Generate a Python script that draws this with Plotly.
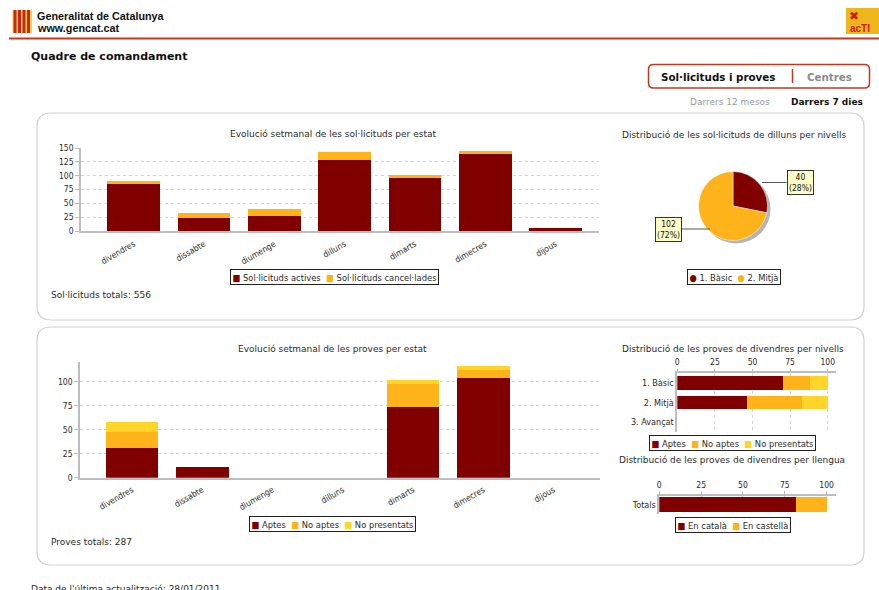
import plotly.graph_objects as go

# ---------------- data ----------------
days = ["divendres", "dissabte", "diumenge", "dilluns", "dimarts", "dimecres", "dijous"]
sol_names = ["Sol·licituds actives", "Sol·licituds cancel·lades"]
sol_actives = [85, 24, 28, 128, 96, 139, 5]
sol_cancel = [5, 9, 12, 14, 5, 6, 0]

pie_levels = ["1. Bàsic", "2. Mitjà"]
pie_values = [40, 102]

prov_names = ["Aptes", "No aptes", "No presentats"]
prov_aptes = [31, 11, 0, 0, 74, 104, 0]
prov_noaptes = [17, 0, 0, 0, 24, 8, 0]
prov_nopres = [10, 0, 0, 0, 4, 4, 0]

levels3 = ["1. Bàsic", "2. Mitjà", "3. Avançat"]
lvl_aptes = [70.6, 46.3, 0]
lvl_noaptes = [17.6, 36.6, 0]
lvl_nopres = [11.8, 17.1, 0]

lang_names = ["En català", "En castellà"]
lang_cat = "Totals"
lang_values = [81.5, 18.5]

y_ticks_sol = [0, 25, 50, 75, 100, 125, 150]
y_ticks_prov = [0, 25, 50, 75, 100]
pct_ticks = [0, 25, 50, 75, 100]

# ---------------- style ----------------
W, H = 879, 590
RED = "#800000"
ORANGE = "#ffb31a"
YELLOW = "#ffd52a"
TXT = "#2b2b2b"
FONT = "DejaVu Sans"
CFONT = "DejaVu Sans Condensed, DejaVu Sans"
GRID = "#d4d4d4"
GDASH = "3px,3px"
AXL = "#bdbdbd"


def X(px):
    return px / W


def Y(py):
    return 1 - py / H


def dx(a, b):
    return [X(a), X(b)]


def dy(top, bottom):
    return [Y(bottom), Y(top)]


fig = go.Figure()
nol = dict(width=0)

# chart 1: sol·licituds
fig.add_trace(go.Bar(x=days, y=sol_actives, name=sol_names[0], marker=dict(color=RED, line=nol),
                     width=0.75, xaxis="x", yaxis="y"))
fig.add_trace(go.Bar(x=days, y=sol_cancel, name=sol_names[1], marker=dict(color=ORANGE, line=nol),
                     width=0.75, xaxis="x", yaxis="y"))

# pie
fig.add_trace(go.Pie(values=pie_values, labels=pie_levels, sort=False, direction="clockwise", rotation=0,
                     marker=dict(colors=[RED, ORANGE], line=dict(color="white", width=0.5)),
                     textinfo="none", domain=dict(x=dx(698.5, 767.5), y=dy(171.5, 240.5))))

# chart 2: proves
for vals, nm, col in zip([prov_aptes, prov_noaptes, prov_nopres], prov_names, [RED, ORANGE, YELLOW]):
    fig.add_trace(go.Bar(x=days, y=vals, name=nm, marker=dict(color=col, line=nol),
                         width=0.75, xaxis="x2", yaxis="y2"))

# hbar 1: nivells
for vals, nm, col in zip([lvl_aptes, lvl_noaptes, lvl_nopres], prov_names, [RED, ORANGE, YELLOW]):
    fig.add_trace(go.Bar(y=levels3, x=vals, name=nm, orientation="h", marker=dict(color=col, line=nol),
                         width=0.68, xaxis="x3", yaxis="y3"))

# hbar 2: llengua
for v, nm, col in zip(lang_values, lang_names, [RED, ORANGE]):
    fig.add_trace(go.Bar(y=[lang_cat], x=[v], name=nm, orientation="h", marker=dict(color=col, line=nol),
                         width=0.84, xaxis="x4", yaxis="y4"))

tickf = dict(family=CFONT, size=8.5, color=TXT)

layout = dict(
    template="none",
    width=W, height=H, autosize=False, margin=dict(l=0, r=0, t=0, b=0, pad=0),
    paper_bgcolor="white", plot_bgcolor="white", showlegend=False, barmode="stack",
    font=dict(family=FONT, color=TXT),
    xaxis=dict(domain=dx(81, 599), anchor="y", type="category", categoryorder="array", categoryarray=days,
               range=[-0.75, 6.62], tickangle=-30, tickfont=tickf, showline=True, linecolor=AXL, linewidth=2,
               ticks="", showgrid=False, zeroline=False, automargin=False, ticklabelstandoff=3),
    yaxis=dict(domain=dy(148, 231), anchor="x", range=[0, 150], tickvals=y_ticks_sol, tickfont=tickf,
               showgrid=True, gridcolor=GRID, griddash=GDASH, showline=True, linecolor=AXL, linewidth=1.5,
               ticks="outside", ticklen=4, tickcolor=AXL, zeroline=False, automargin=False),
    xaxis2=dict(domain=dx(80, 600), anchor="y2", type="category", categoryorder="array", categoryarray=days,
                range=[-0.74, 6.66], tickangle=-30, tickfont=tickf, showline=True, linecolor=AXL, linewidth=2,
                ticks="", showgrid=False, zeroline=False, automargin=False, ticklabelstandoff=2),
    yaxis2=dict(domain=dy(361.7, 477.7), anchor="x2", range=[0, 121], tickvals=y_ticks_prov, tickfont=tickf,
                showgrid=True, gridcolor=GRID, griddash=GDASH, showline=True, linecolor=AXL, linewidth=1.5,
                ticks="outside", ticklen=4, tickcolor=AXL, zeroline=False, automargin=False),
    xaxis3=dict(domain=dx(677.3, 836), anchor="y3", side="top", range=[0, 105.5], tickvals=pct_ticks,
                tickfont=tickf, showgrid=True, gridcolor=GRID, griddash=GDASH, showline=True, linecolor=AXL,
                linewidth=1.5, ticks="outside", ticklen=3, tickcolor=AXL, zeroline=False, automargin=False),
    yaxis3=dict(domain=dy(373.3, 432), anchor="x3", type="category", categoryorder="array", categoryarray=levels3,
                range=[2.5, -0.5], tickfont=dict(family=CFONT, size=9, color=TXT), showline=True, linecolor=AXL,
                linewidth=1.5, ticks="", showgrid=False, zeroline=False, automargin=False),
    xaxis4=dict(domain=dx(659.3, 836), anchor="y4", side="top", range=[0, 105.6], tickvals=pct_ticks,
                tickfont=tickf, showgrid=True, gridcolor=GRID, griddash=GDASH, showline=True, linecolor=AXL,
                linewidth=1.5, ticks="outside", ticklen=3, tickcolor=AXL, zeroline=False, automargin=False),
    yaxis4=dict(domain=dy(495.7, 513.5), anchor="x4", type="category", range=[-0.5, 0.5],
                tickfont=dict(family=CFONT, size=9, color=TXT), showline=True, linecolor=AXL, linewidth=1.5,
                ticks="", showgrid=False, zeroline=False, automargin=False),
)
fig.update_layout(**layout)

shapes = []
anns = []


def rrect(x0, y0, x1, y1, r):
    return (f"M {X(x0 + r)},{Y(y0)} L {X(x1 - r)},{Y(y0)} Q {X(x1)},{Y(y0)} {X(x1)},{Y(y0 + r)} "
            f"L {X(x1)},{Y(y1 - r)} Q {X(x1)},{Y(y1)} {X(x1 - r)},{Y(y1)} L {X(x0 + r)},{Y(y1)} "
            f"Q {X(x0)},{Y(y1)} {X(x0)},{Y(y1 - r)} L {X(x0)},{Y(y0 + r)} Q {X(x0)},{Y(y0)} {X(x0 + r)},{Y(y0)} Z")


def rect(x0, y0, x1, y1, fill, line=None, lw=0, layer="above"):
    shapes.append(dict(type="rect", xref="paper", yref="paper", x0=X(x0), x1=X(x1), y0=Y(y0), y1=Y(y1),
                       fillcolor=fill, line=dict(color=line or fill, width=lw), layer=layer))


def line(x0, y0, x1, y1, color, w=1):
    shapes.append(dict(type="line", xref="paper", yref="paper", x0=X(x0), x1=X(x1), y0=Y(y0), y1=Y(y1),
                       line=dict(color=color, width=w)))


def text(t, x, y, size, color=TXT, xa="left", ya="middle", family=FONT, **kw):
    anns.append(dict(text=t, x=X(x), y=Y(y), xref="paper", yref="paper", xanchor=xa, yanchor=ya,
                     showarrow=False, borderpad=0, borderwidth=0,
                     font=dict(family=family, size=size, color=color), **kw))


# header
rect(12.5, 10, 32, 33, "#f6d04d")
for sx in [13.5, 18, 22.5, 27]:
    rect(sx, 10, sx + 3, 33, "#c8261b")
text("<b>Generalitat de Catalunya</b>", 37, 16.5, 10.8, "#111", family="Liberation Sans, Arial")
text("<b>www.gencat.cat</b>", 37, 28.5, 10.8, "#111", family="Liberation Sans, Arial")
line(9, 38.5, 879, 38.5, "#c8361c", 2)
rect(846, 8, 879, 34, "#efb51c")
text("<b>✖</b>", 848.5, 16, 12, "#d11a1a")
text("<b>acTI</b>", 850, 28, 10, "#d11a1a", family="Liberation Sans, Arial")

text("<b>Quadre de comandament</b>", 31, 56.5, 11, "#111")

# tab button
shapes.append(dict(type="path", xref="paper", yref="paper", path=rrect(648.5, 64.5, 869.5, 88, 5),
                   line=dict(color="#c8361c", width=1.5)))
line(792.5, 69, 792.5, 83, "#c8361c", 1.5)
text("<b>Sol·licituds i proves</b>", 718, 76.5, 10.3, "#111", xa="center")
text("<b>Centres</b>", 829, 76.5, 10.3, "#8c8c8c", xa="center")
text("Darrers 12 mesos", 729.5, 101.5, 9, "#9a9a9a", xa="center")
text("<b>Darrers 7 dies</b>", 826.5, 101.5, 9, "#111", xa="center")

# panels
shapes.append(dict(type="path", xref="paper", yref="paper", path=rrect(37, 113, 864, 320, 14),
                   line=dict(color="#cfcfcf", width=1.2)))
shapes.append(dict(type="path", xref="paper", yref="paper", path=rrect(37, 327, 864, 565, 14),
                   line=dict(color="#cfcfcf", width=1.2)))

# titles
TS = 9
text("Evolució setmanal de les sol·licituds per estat", 333, 134, TS, xa="center")
text("Distribució de les sol·licituds de dilluns per nivells", 734, 134.5, TS, xa="center")
text("Evolució setmanal de les proves per estat", 332, 348.5, TS, xa="center")
text("Distribució de les proves de divendres per nivells", 733, 349, TS, xa="center")
text("Distribució de les proves de divendres per llengua", 732, 460, TS, xa="center")

# totals
text(f"Sol·licituds totals: {sum(sol_actives) + sum(sol_cancel)}", 51, 294.5, 9)
text(f"Proves totals: {sum(prov_aptes) + sum(prov_noaptes) + sum(prov_nopres)}", 51, 541.5, 9)
text("Data de l'última actualització: 28/01/2011", 31, 583.5, 9, ya="top")


# legends as boxed annotations
def legend(items, x, y, glyph="■"):
    parts = [f"<span style='color:{c}'>{glyph}</span> {n}" for n, c in items]
    anns.append(dict(text="  ".join(parts), x=X(x), y=Y(y), xref="paper", yref="paper", xanchor="center",
                     yanchor="middle", showarrow=False, font=dict(family=CFONT, size=9.3, color=TXT),
                     bordercolor="#222", borderwidth=1, borderpad=1.5, bgcolor="white"))


legend(list(zip(sol_names, [RED, ORANGE])), 334.5, 276.5)
legend(list(zip(pie_levels, [RED, ORANGE])), 733.5, 277, glyph="●")
legend(list(zip(prov_names, [RED, ORANGE, YELLOW])), 332.5, 523.5)
legend(list(zip(prov_names, [RED, ORANGE, YELLOW])), 732.5, 443)
legend(list(zip(lang_names, [RED, ORANGE])), 732.5, 525)

# pie shadow and labels
shapes.append(dict(type="circle", xref="paper", yref="paper", x0=X(701.5), x1=X(770.5), y0=Y(174.5),
                   y1=Y(243.5), fillcolor="rgba(120,120,120,0.55)", line=dict(width=0), layer="below"))
tot = sum(pie_values)
pie_lbl_pos = [(800, 182.5, 762, 786.5), (668, 229, 680, 710)]
for v, (lx, ly, l0, l1) in zip(pie_values, pie_lbl_pos):
    line(l0, ly, l1, ly, "#555", 1)
    anns.append(dict(text=f"{v}<br>({round(100 * v / tot)}%)", x=X(lx), y=Y(ly), xref="paper", yref="paper",
                     xanchor="center", yanchor="middle", showarrow=False,
                     font=dict(family=CFONT, size=8.5, color="#111"), bgcolor="#ffffc8", bordercolor="#333",
                     borderwidth=1, borderpad=1))

fig.update_layout(shapes=shapes, annotations=anns)
fig.write_html("out.html", config={"displayModeBar": False},
               post_script="document.body.style.margin='0';document.body.style.overflow='hidden';")
